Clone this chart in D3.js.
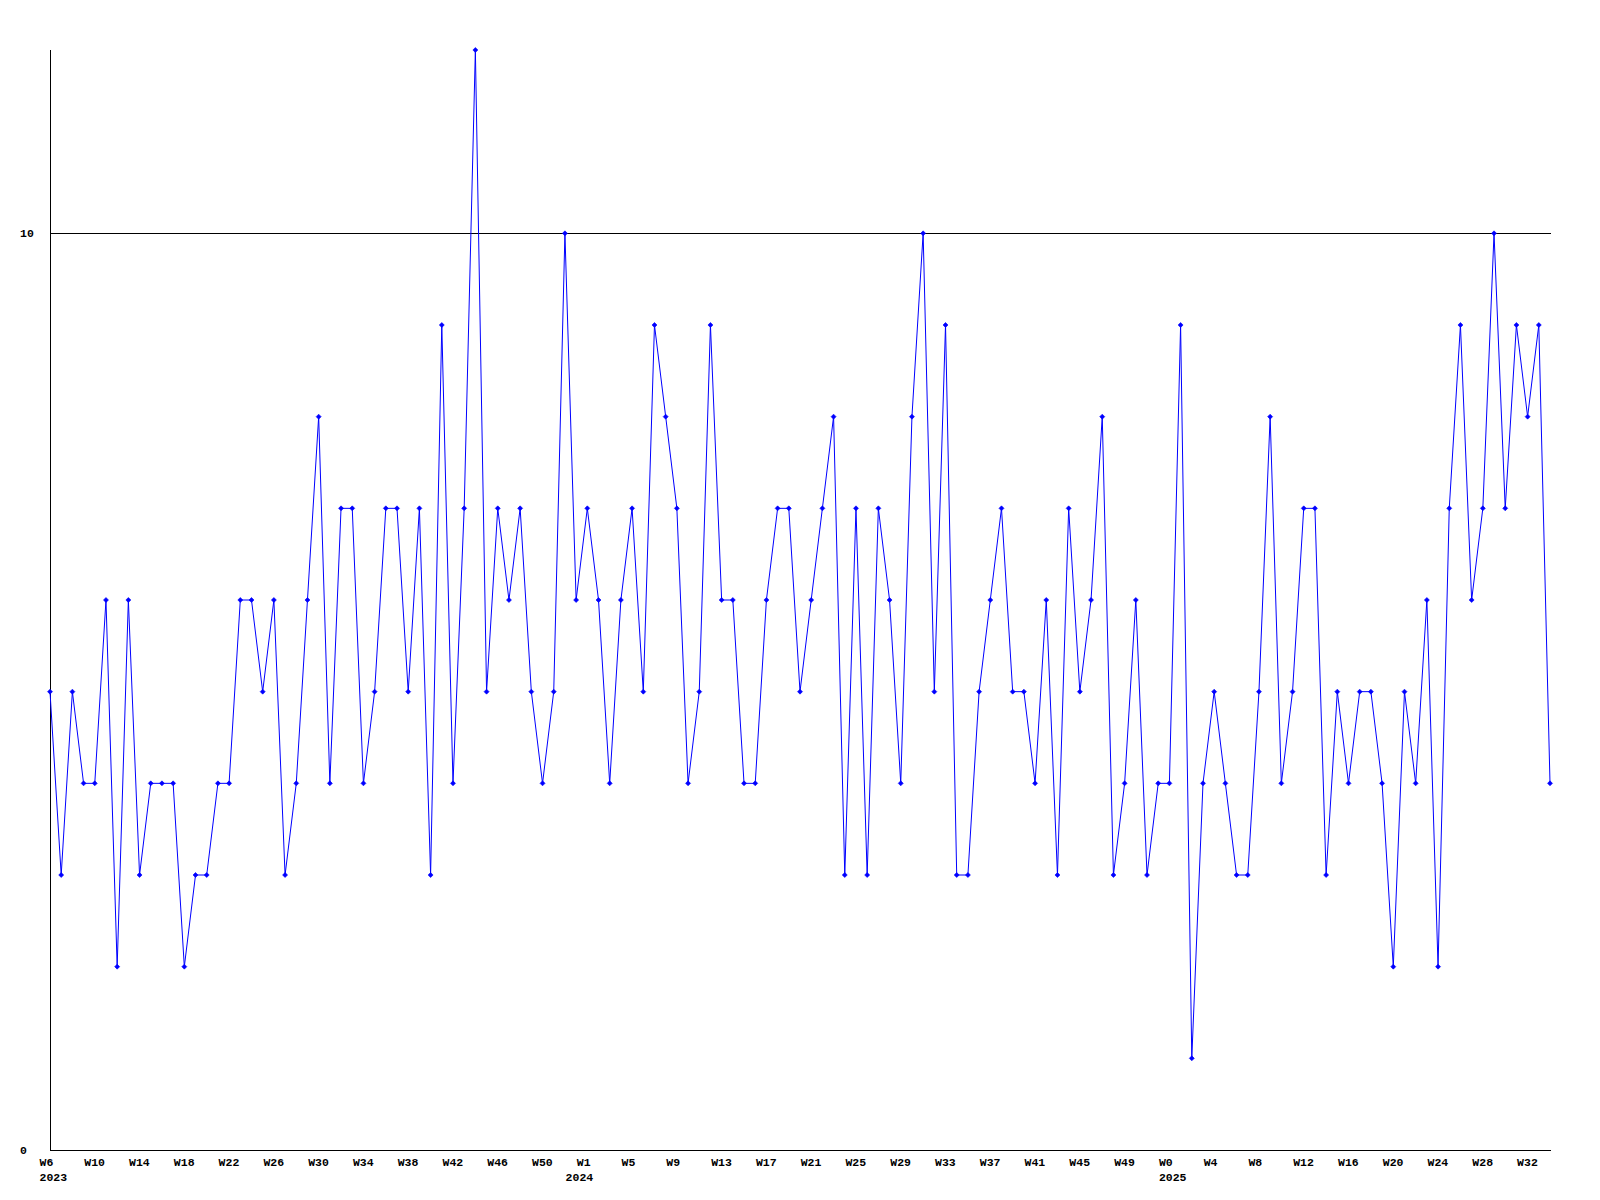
<!DOCTYPE html>
<html>
<head>
<meta charset="utf-8">
<script src="https://cdn.jsdelivr.net/npm/d3@7"></script>
<style>
  html, body { margin: 0; padding: 0; background: #fff; }
  svg text { font-family: "Liberation Mono", "DejaVu Sans Mono", monospace; font-weight: bold; font-size: 11.5px; fill: #000; }
</style>
</head>
<body>
<svg id="chart" width="1600" height="1200"></svg>
<script>
// ---- data ----
const years = [2023, 2024, 2025];
const yearFirstWeek = [6, 1, 0];
const yearLastWeek = [53, 52, 34];
// position (category index) where each year label is printed
const yearLabelIndex = [0, 47, 100];

const values = [
  5,3,5,4,4,6,2,6,3,4,
  4,4,2,3,3,4,4,6,6,5,
  6,3,4,6,8,4,7,7,4,5,
  7,7,5,7,3,9,4,7,12,5,
  7,6,7,5,4,5,10,6,7,6,
  4,6,7,5,9,8,7,4,5,9,
  6,6,4,4,6,7,7,5,6,7,
  8,3,7,3,7,6,4,8,10,5,
  9,3,3,5,6,7,5,5,4,6,
  3,7,5,6,8,3,4,6,3,4,
  4,9,1,4,5,4,3,3,5,8,
  4,5,7,7,3,5,4,5,5,4,
  2,5,4,6,2,7,9,6,7,10,
  7,9,8,9,4
];
const yTickValues = [0, 10];
const labelEvery = 4;

// categories (week, year)
const categories = [];
years.forEach((yr, i) => {
  for (let w = yearFirstWeek[i]; w <= yearLastWeek[i]; w++) categories.push({ year: yr, week: "W" + w });
});
const data = values.map((v, i) => ({ i, v, cat: categories[i] }));

// ---- layout ----
const svg = d3.select("#chart");
const mLeft = 50, mRight = 1550, mTop = 50, mBottom = 1150;

const x = d3.scaleLinear().domain([0, data.length - 1]).range([mLeft, mRight]);
const y = d3.scaleLinear().domain([0, 12]).range([mBottom, mTop]);

// gridline at 10
svg.selectAll("line.grid").data(yTickValues.filter(d => d !== 0)).join("line")
  .attr("class", "grid")
  .attr("x1", mLeft).attr("x2", mRight + 1)
  .attr("y1", d => Math.round(y(d)) + 0.5).attr("y2", d => Math.round(y(d)) + 0.5)
  .attr("stroke", "#000").attr("stroke-width", 1);

// axes lines
svg.append("line").attr("x1", mLeft + 0.5).attr("x2", mLeft + 0.5).attr("y1", mTop).attr("y2", mBottom + 1)
  .attr("stroke", "#000");
svg.append("line").attr("x1", mLeft).attr("x2", mRight + 1).attr("y1", mBottom + 0.5).attr("y2", mBottom + 0.5)
  .attr("stroke", "#000");

// y labels
svg.selectAll("text.ylab").data(yTickValues).join("text")
  .attr("class", "ylab")
  .attr("x", 20).attr("y", d => y(d) + 1)
  .attr("dominant-baseline", "middle")
  .text(d => d);

// x labels
const labelled = data.filter(d => d.i % labelEvery === 0);
svg.selectAll("text.xlab").data(labelled).join("text")
  .attr("class", "xlab")
  .attr("x", d => x(d.i) - 10.5).attr("y", 1163)
  .attr("dominant-baseline", "middle")
  .text(d => d.cat.week);

// year labels
svg.selectAll("text.yrlab").data(years).join("text")
  .attr("class", "yrlab")
  .attr("x", (d, i) => x(yearLabelIndex[i]) - 10.5).attr("y", 1178)
  .attr("dominant-baseline", "middle")
  .text(d => d);

// series line
const line = d3.line().x(d => x(d.i)).y(d => y(d.v));
svg.append("path").datum(data)
  .attr("d", line)
  .attr("fill", "none")
  .attr("stroke", "#0000ff")
  .attr("stroke-width", 1);

// markers
svg.selectAll("path.mark").data(data).join("path")
  .attr("class", "mark")
  .attr("transform", d => `translate(${x(d.i)},${y(d.v)})`)
  .attr("d", "M-2.5,0L0,-2.5L2.5,0L0,2.5Z")
  .attr("fill", "#0000ff")
  .attr("stroke", "#0000ff")
  .attr("stroke-width", 0.6);
</script>
</body>
</html>
